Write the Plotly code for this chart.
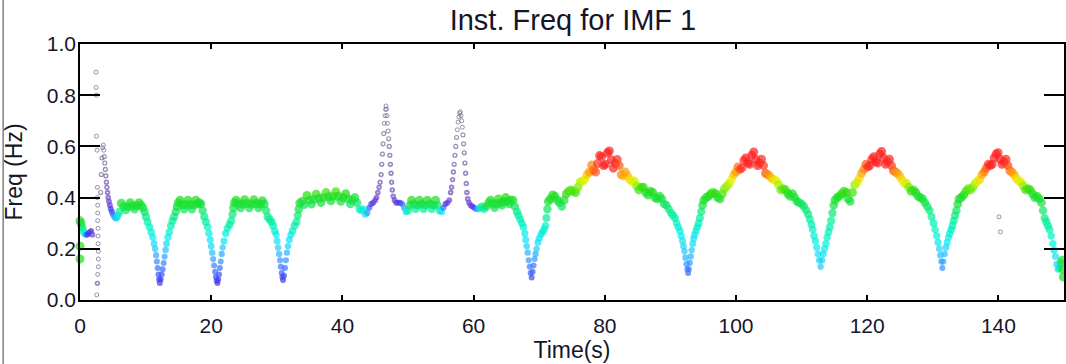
import plotly.graph_objects as go

# ---- data (time in s, instantaneous frequency in Hz, amplitude 0..1 for colour) ----
time_s = [
    # start
    0.0, 0.0, 0.0, 0.15, 0.3, 0.5, 0.7, 0.9, 1.1, 1.3, 1.5, 1.7, 1.9,
    # scattered column near t=2.5
    2.45, 2.45, 2.5, 2.5, 2.6, 2.65, 2.65, 2.7, 2.7, 2.7, 2.75, 2.75, 2.75, 2.8, 2.8, 2.8, 2.7, 2.65, 2.55,
    # first spike
    3.15, 3.25, 3.35, 3.45, 3.55, 3.62, 3.7, 3.78, 3.86, 3.94, 4.02, 4.1, 4.2, 4.3, 4.42, 4.55, 4.7, 4.85, 5.0, 5.2, 5.4, 5.6, 5.8, 6.0,
    # plateau 1
    6.3, 6.65, 7.0, 7.3, 7.65, 8.0, 8.3, 8.65, 9.0, 9.3,
    # dip 1
    9.6, 9.85, 10.05, 10.3, 10.6, 10.85, 11.1, 11.3, 11.45, 11.6, 11.72, 11.84, 11.96, 12.06, 12.16,
    12.3, 12.45, 12.6, 12.75, 12.9, 13.05, 13.2, 13.4, 13.6, 13.85, 14.1, 14.35, 14.6, 14.8, 15.0,
    # plateau 2
    15.25, 15.55, 15.85, 16.15, 16.45, 16.75, 17.05, 17.35, 17.65, 17.95, 18.2,
    # dip 2
    18.45, 18.7, 18.95, 19.2, 19.45, 19.65, 19.85, 20.0, 20.15, 20.3, 20.45, 20.6, 20.72, 20.84, 20.95,
    21.07, 21.2, 21.32, 21.45, 21.6, 21.75, 21.95, 22.2, 22.5, 22.8, 23.05, 23.25, 23.4, 23.55,
    # plateau 3
    23.8, 24.15, 24.5, 24.8, 25.1, 25.45, 25.8, 26.15, 26.5, 26.85, 27.2, 27.5, 27.8,
    # dip 3
    28.1, 28.35, 28.6, 28.9, 29.2, 29.45, 29.7, 29.9, 30.05, 30.2, 30.35, 30.5, 30.62, 30.75, 30.85, 30.95,
    31.1, 31.25, 31.4, 31.55, 31.7, 31.9, 32.15, 32.4, 32.7, 33.0, 33.2, 33.35, 33.5,
    # plateau 4
    33.85, 34.2, 34.6, 34.95, 35.3, 35.65, 36.0, 36.4, 36.75, 37.1, 37.5, 37.85, 38.25, 38.6, 39.0, 39.35,
    39.75, 40.1, 40.5, 40.85, 41.2, 41.55, 41.9, 42.25, 42.6, 42.9, 43.2, 43.5, 43.8, 44.1, 44.4, 44.7, 45.0,
    # spike 1
    45.2, 45.4, 45.6, 45.75, 45.9, 46.0, 46.1, 46.2, 46.3, 46.4, 46.5, 46.58, 46.65, 46.72, 46.8, 46.88,
    46.96, 47.05, 47.14, 47.23, 47.32, 47.41, 47.5, 47.6, 47.75, 47.95, 48.2,
    # between spikes
    48.5, 48.8, 49.1, 49.4, 49.7, 50.0, 50.25, 50.55, 50.85, 51.15, 51.45, 51.75, 52.05, 52.35, 52.65, 52.95,
    53.3, 53.6, 53.9, 54.2, 54.5, 54.8, 55.1, 55.4, 55.7, 56.0, 56.3,
    # spike 2
    56.5, 56.65, 56.8, 56.92, 57.04, 57.16, 57.28, 57.4, 57.52, 57.64, 57.76, 57.88, 57.98, 58.08, 58.18,
    58.28, 58.38, 58.48, 58.58, 58.68, 58.78, 58.88, 58.98, 59.1, 59.3, 59.55, 59.8,
    # plateau 5
    60.1, 60.4, 60.7, 61.0, 61.3, 61.6, 61.95, 62.3, 62.6, 62.9, 63.2, 63.5, 63.8, 64.1, 64.35, 64.6, 64.9,
    65.2, 65.45, 65.7,
    # dip 4
    66.0, 66.3, 66.6, 66.85, 67.1, 67.35, 67.6, 67.8, 67.95, 68.1, 68.25, 68.4, 68.55, 68.7, 68.85,
    69.0, 69.15, 69.3, 69.45, 69.6, 69.8, 70.0, 70.25, 70.5, 70.75, 70.95, 71.1, 71.25, 71.4,
    # rise to peak 1
    71.7, 72.05, 72.4, 72.75, 73.1, 73.45, 73.8, 74.15, 74.5, 74.85, 75.2, 75.55, 75.9, 76.25, 76.6, 76.95,
    77.3, 77.65,
    # peak 1
    78.0, 78.3, 78.6, 78.9, 79.2, 79.5, 79.8, 80.1, 80.4, 80.7, 81.0, 81.3, 81.6, 81.9, 82.2, 82.5, 82.8,
    # descent
    83.1, 83.45, 83.8, 84.15, 84.5, 84.85, 85.2, 85.55, 85.9, 86.25, 86.6, 86.95, 87.3, 87.65, 88.0, 88.35,
    88.7, 89.05,
    # dip 5
    89.4, 89.75, 90.1, 90.4, 90.7, 90.95, 91.2, 91.45, 91.65, 91.85, 92.0, 92.15, 92.3, 92.45, 92.58, 92.7,
    92.82, 92.95, 93.1, 93.25, 93.4, 93.55, 93.7, 93.9, 94.1, 94.3, 94.5, 94.7, 94.9, 95.1,
    # rise to peak 2
    95.45, 95.8, 96.15, 96.5, 96.85, 97.2, 97.55, 97.9, 98.25, 98.6, 98.95, 99.3, 99.65,
    # peak 2
    100.0, 100.3, 100.6, 100.9, 101.2, 101.5, 101.8, 102.1, 102.4, 102.7, 103.0, 103.3, 103.6, 103.9,
    104.2, 104.5, 104.8,
    # descent
    105.1, 105.45, 105.8, 106.15, 106.5, 106.85, 107.2, 107.55, 107.9, 108.25, 108.6, 108.95, 109.3,
    109.65, 110.0,
    # dip 6
    110.35, 110.7, 111.0, 111.25, 111.5, 111.7, 111.9, 112.1, 112.3, 112.5, 112.7, 112.9, 113.1, 113.3,
    113.5, 113.7, 113.9, 114.1, 114.3, 114.5, 114.7, 114.9, 115.1,
    # rise to peak 3
    115.4, 115.75, 116.1, 116.45, 116.8, 117.1, 117.4, 117.75, 118.1, 118.45, 118.8, 119.15,
    # peak 3
    119.5, 119.8, 120.1, 120.4, 120.7, 121.0, 121.3, 121.6, 121.9, 122.2, 122.5, 122.8, 123.1, 123.4,
    123.7, 124.0, 124.3,
    # descent
    124.6, 124.95, 125.3, 125.65, 126.0, 126.35, 126.7, 127.05, 127.4, 127.75, 128.1, 128.45, 128.8, 129.15,
    # dip 7
    129.5, 129.8, 130.1, 130.35, 130.6, 130.8, 131.0, 131.15, 131.3, 131.45, 131.6, 131.8, 132.0, 132.2,
    132.4, 132.6, 132.8, 133.0, 133.2, 133.4, 133.6, 133.8, 134.0,
    # rise to peak 4
    134.35, 134.7, 135.05, 135.4, 135.75, 136.1, 136.45, 136.8, 137.15, 137.5,
    # peak 4
    137.85, 138.15, 138.45, 138.75, 139.05, 139.35, 139.65, 139.95, 140.25, 140.55, 140.85, 141.15,
    141.45, 141.75, 142.05,
    # descent
    142.4, 142.75, 143.1, 143.45, 143.8, 144.15, 144.5, 144.85, 145.2, 145.55, 145.9, 146.25,
    # final drop
    146.55, 146.8, 147.05, 147.3, 147.55, 147.8, 148.05, 148.3, 148.5, 148.7, 148.9, 149.1, 149.3, 149.5,
    149.7, 149.8, 149.9,
    # isolated points
    140.1, 140.3, 77.05, 76.9, 76.75,
]

freq_hz = [
    0.31, 0.21, 0.16, 0.30, 0.285, 0.27, 0.26, 0.255, 0.255, 0.26, 0.265, 0.27, 0.255,
    0.89, 0.83, 0.80, 0.64, 0.585, 0.44, 0.40, 0.37, 0.34, 0.31, 0.28, 0.25, 0.22, 0.19, 0.16, 0.13, 0.10, 0.065, 0.02,
    0.42, 0.49, 0.555, 0.595, 0.605, 0.585, 0.56, 0.535, 0.51, 0.485, 0.46, 0.44, 0.42, 0.40, 0.385, 0.37, 0.355,
    0.345, 0.335, 0.325, 0.32, 0.32, 0.33, 0.345,
    0.378, 0.365, 0.352, 0.365, 0.38, 0.367, 0.355, 0.368, 0.38, 0.37,
    0.36, 0.345, 0.325, 0.305, 0.285, 0.265, 0.245, 0.22, 0.20, 0.175, 0.15, 0.125, 0.10, 0.08, 0.066,
    0.08, 0.10, 0.12, 0.145, 0.17, 0.195, 0.22, 0.245, 0.265, 0.29, 0.31, 0.325, 0.345, 0.365, 0.38,
    0.39, 0.372, 0.355, 0.372, 0.39, 0.372, 0.355, 0.372, 0.39, 0.375, 0.38,
    0.375, 0.35, 0.325, 0.305, 0.285, 0.26, 0.235, 0.21, 0.185, 0.16, 0.135, 0.11, 0.09, 0.075, 0.066,
    0.08, 0.10, 0.125, 0.15, 0.18, 0.205, 0.23, 0.26, 0.28, 0.295, 0.31, 0.335, 0.36, 0.38,
    0.39, 0.375, 0.36, 0.375, 0.392, 0.377, 0.36, 0.375, 0.392, 0.377, 0.36, 0.375, 0.388,
    0.375, 0.35, 0.325, 0.315, 0.305, 0.29, 0.27, 0.255, 0.23, 0.205, 0.18, 0.155, 0.13, 0.105, 0.09, 0.078,
    0.095, 0.125, 0.155, 0.185, 0.21, 0.235, 0.255, 0.27, 0.29, 0.305, 0.33, 0.355, 0.378,
    0.385, 0.372, 0.408, 0.39, 0.374, 0.393, 0.413, 0.397, 0.38, 0.40, 0.42, 0.403, 0.387, 0.405, 0.423, 0.405,
    0.385, 0.40, 0.415, 0.395, 0.375, 0.39, 0.40, 0.38, 0.355, 0.35, 0.355, 0.335, 0.34, 0.36, 0.375, 0.38, 0.39,
    0.40, 0.42, 0.44, 0.46, 0.49, 0.53, 0.57, 0.61, 0.65, 0.69, 0.72, 0.745, 0.758, 0.745, 0.72, 0.69,
    0.66, 0.63, 0.60, 0.565, 0.53, 0.495, 0.46, 0.43, 0.405, 0.39, 0.38,
    0.38, 0.38, 0.375, 0.36, 0.345, 0.35, 0.37, 0.39, 0.375, 0.355, 0.37, 0.39, 0.375, 0.355, 0.37, 0.39,
    0.375, 0.355, 0.37, 0.39, 0.37, 0.35, 0.345, 0.36, 0.375, 0.38, 0.39,
    0.42, 0.44, 0.47, 0.50, 0.53, 0.565, 0.60, 0.635, 0.665, 0.695, 0.715, 0.73, 0.735, 0.72, 0.70,
    0.675, 0.645, 0.61, 0.575, 0.535, 0.495, 0.455, 0.42, 0.395, 0.38, 0.37, 0.365,
    0.36, 0.355, 0.355, 0.36, 0.365, 0.355, 0.365, 0.38, 0.39, 0.375, 0.36, 0.375, 0.395, 0.38, 0.37, 0.385, 0.40,
    0.385, 0.375, 0.39,
    0.39, 0.365, 0.345, 0.33, 0.315, 0.30, 0.285, 0.26, 0.235, 0.21, 0.185, 0.155, 0.13, 0.105, 0.088,
    0.11, 0.135, 0.16, 0.18, 0.20, 0.225, 0.24, 0.255, 0.265, 0.275, 0.29, 0.32, 0.355, 0.385,
    0.395, 0.41, 0.405, 0.39, 0.38, 0.365, 0.39, 0.415, 0.425, 0.43, 0.425, 0.42, 0.44, 0.46, 0.465, 0.47,
    0.49, 0.50,
    0.527, 0.508, 0.50, 0.533, 0.564, 0.56, 0.525, 0.53, 0.575, 0.582, 0.548, 0.515, 0.533, 0.549, 0.525, 0.49, 0.485,
    0.50, 0.485, 0.47, 0.462, 0.465, 0.445, 0.43, 0.44, 0.44, 0.42, 0.41, 0.425, 0.42, 0.40, 0.395, 0.405,
    0.395, 0.375,
    0.37, 0.355, 0.34, 0.33, 0.32, 0.30, 0.285, 0.27, 0.25, 0.23, 0.21, 0.19, 0.165, 0.14, 0.12, 0.105,
    0.12, 0.145, 0.17, 0.195, 0.22, 0.24, 0.255, 0.27, 0.285, 0.30, 0.32, 0.345, 0.37, 0.39,
    0.40, 0.405, 0.415, 0.42, 0.415, 0.40, 0.395, 0.415, 0.435, 0.445, 0.455, 0.47, 0.49,
    0.50, 0.52, 0.51, 0.515, 0.545, 0.555, 0.535, 0.53, 0.565, 0.578, 0.55, 0.525, 0.535, 0.55,
    0.525, 0.495, 0.49,
    0.485, 0.475, 0.47, 0.465, 0.45, 0.43, 0.435, 0.43, 0.415, 0.405, 0.415, 0.40, 0.385, 0.38, 0.375,
    0.365, 0.35, 0.335, 0.315, 0.295, 0.275, 0.25, 0.23, 0.205, 0.18, 0.155, 0.13, 0.155, 0.18,
    0.2, 0.22, 0.245, 0.265, 0.285, 0.31, 0.34, 0.37, 0.39,
    0.40, 0.405, 0.415, 0.425, 0.42, 0.395, 0.385, 0.42, 0.45, 0.46, 0.475, 0.495,
    0.51, 0.53, 0.52, 0.525, 0.55, 0.56, 0.54, 0.535, 0.57, 0.58, 0.555, 0.53, 0.54, 0.55,
    0.525, 0.505, 0.50,
    0.495, 0.485, 0.47, 0.455, 0.455, 0.44, 0.425, 0.43, 0.42, 0.405, 0.40, 0.395, 0.38, 0.365,
    0.35, 0.325, 0.30, 0.275, 0.25, 0.225, 0.20, 0.175, 0.15, 0.125, 0.15, 0.18, 0.205, 0.225,
    0.245, 0.26, 0.275, 0.29, 0.31, 0.33, 0.35, 0.375, 0.395,
    0.40, 0.41, 0.425, 0.435, 0.43, 0.44, 0.455, 0.465, 0.47, 0.49,
    0.50, 0.515, 0.53, 0.525, 0.53, 0.555, 0.57, 0.575, 0.55, 0.53, 0.54, 0.55, 0.525, 0.505, 0.50,
    0.49, 0.475, 0.465, 0.46, 0.445, 0.43, 0.435, 0.43, 0.415, 0.40, 0.405, 0.395,
    0.38, 0.35, 0.32, 0.305, 0.29, 0.275, 0.25, 0.22, 0.195, 0.17, 0.14, 0.12, 0.125, 0.145,
    0.155, 0.12, 0.09,
    0.325, 0.266, -0.012, -0.051, -0.125,
]

amplitude = [
    0.62, 0.62, 0.62, 0.6, 0.56, 0.5, 0.42, 0.3, 0.22, 0.2, 0.2, 0.17, 0.12,
    0, 0, 0, 0, 0, 0, 0, 0, 0, 0, 0, 0, 0, 0, 0, 0, 0, 0.06, 0,
    0.02, 0.02, 0.01, 0, 0, 0, 0.01, 0.02, 0.03, 0.04, 0.05, 0.06, 0.08, 0.1, 0.13, 0.16, 0.19, 0.22, 0.26,
    0.3, 0.34, 0.38, 0.44, 0.5,
    0.6, 0.58, 0.55, 0.58, 0.62, 0.6, 0.56, 0.6, 0.62, 0.6,
    0.58, 0.55, 0.52, 0.5, 0.47, 0.45, 0.42, 0.39, 0.36, 0.33, 0.3, 0.27, 0.24, 0.21, 0.19,
    0.21, 0.24, 0.26, 0.29, 0.32, 0.35, 0.39, 0.42, 0.45, 0.48, 0.5, 0.52, 0.55, 0.58, 0.6,
    0.62, 0.6, 0.55, 0.6, 0.62, 0.6, 0.55, 0.6, 0.62, 0.6, 0.6,
    0.58, 0.55, 0.52, 0.5, 0.47, 0.44, 0.41, 0.38, 0.35, 0.32, 0.29, 0.26, 0.23, 0.21, 0.19,
    0.21, 0.24, 0.27, 0.3, 0.33, 0.36, 0.4, 0.44, 0.47, 0.49, 0.5, 0.53, 0.57, 0.6,
    0.62, 0.6, 0.56, 0.6, 0.63, 0.6, 0.56, 0.6, 0.63, 0.6, 0.56, 0.6, 0.62,
    0.58, 0.55, 0.52, 0.51, 0.5, 0.48, 0.45, 0.43, 0.4, 0.37, 0.34, 0.31, 0.28, 0.25, 0.22, 0.2,
    0.23, 0.27, 0.31, 0.34, 0.37, 0.4, 0.43, 0.45, 0.48, 0.5, 0.53, 0.56, 0.6,
    0.6, 0.56, 0.64, 0.6, 0.56, 0.6, 0.65, 0.6, 0.57, 0.62, 0.66, 0.62, 0.58, 0.62, 0.66, 0.62,
    0.58, 0.6, 0.64, 0.6, 0.55, 0.58, 0.6, 0.55, 0.48, 0.45, 0.44, 0.4, 0.32, 0.24, 0.2, 0.17, 0.14,
    0.12, 0.1, 0.08, 0.07, 0.05, 0.04, 0.03, 0.02, 0.01, 0, 0, 0, 0, 0, 0, 0,
    0.01, 0.02, 0.03, 0.04, 0.05, 0.06, 0.07, 0.08, 0.1, 0.12, 0.15,
    0.18, 0.21, 0.25, 0.32, 0.4, 0.48, 0.56, 0.62, 0.58, 0.5, 0.56, 0.62, 0.58, 0.5, 0.56, 0.62,
    0.58, 0.5, 0.56, 0.62, 0.55, 0.45, 0.4, 0.27, 0.2, 0.16, 0.13,
    0.1, 0.08, 0.07, 0.05, 0.04, 0.03, 0.02, 0.01, 0, 0, 0, 0, 0, 0, 0,
    0, 0.01, 0.02, 0.03, 0.04, 0.05, 0.06, 0.08, 0.1, 0.12, 0.14, 0.17,
    0.21, 0.27, 0.35, 0.44, 0.52, 0.5, 0.56, 0.6, 0.62, 0.6, 0.55, 0.6, 0.63, 0.6, 0.57, 0.6, 0.64,
    0.6, 0.57, 0.6,
    0.6, 0.56, 0.52, 0.5, 0.48, 0.47, 0.45, 0.42, 0.4, 0.37, 0.34, 0.31, 0.28, 0.25, 0.22,
    0.25, 0.28, 0.31, 0.33, 0.36, 0.39, 0.41, 0.43, 0.44, 0.45, 0.47, 0.5, 0.55, 0.6,
    0.6, 0.63, 0.62, 0.6, 0.58, 0.55, 0.6, 0.64, 0.66, 0.68, 0.67, 0.66, 0.7, 0.74, 0.76, 0.78,
    0.82, 0.86,
    0.88, 0.9, 0.92, 0.95, 0.98, 1, 1, 1, 1, 1, 1, 1, 0.98, 0.96, 0.92, 0.88, 0.84,
    0.86, 0.84, 0.8, 0.78, 0.77, 0.72, 0.66, 0.66, 0.65, 0.62, 0.6, 0.63, 0.62, 0.6, 0.58, 0.6,
    0.58, 0.55,
    0.55, 0.53, 0.51, 0.5, 0.49, 0.47, 0.45, 0.44, 0.42, 0.4, 0.38, 0.36, 0.34, 0.31, 0.28, 0.26,
    0.28, 0.31, 0.34, 0.36, 0.38, 0.4, 0.42, 0.44, 0.46, 0.48, 0.5, 0.53, 0.57, 0.6,
    0.6, 0.62, 0.64, 0.66, 0.64, 0.6, 0.6, 0.66, 0.7, 0.72, 0.75, 0.78, 0.82,
    0.86, 0.9, 0.93, 0.95, 0.98, 1, 1, 1, 1, 1, 1, 1, 1, 0.98,
    0.95, 0.92, 0.88,
    0.86, 0.82, 0.8, 0.78, 0.74, 0.68, 0.68, 0.66, 0.63, 0.6, 0.62, 0.6, 0.58, 0.57, 0.55,
    0.55, 0.53, 0.52, 0.5, 0.48, 0.47, 0.45, 0.44, 0.42, 0.4, 0.38, 0.36, 0.38, 0.4,
    0.42, 0.44, 0.46, 0.47, 0.48, 0.5, 0.53, 0.57, 0.6,
    0.6, 0.62, 0.64, 0.66, 0.64, 0.6, 0.58, 0.66, 0.72, 0.76, 0.8, 0.85,
    0.88, 0.92, 0.95, 0.97, 1, 1, 1, 1, 1, 1, 1, 1, 1, 0.98,
    0.95, 0.92, 0.88,
    0.86, 0.84, 0.8, 0.78, 0.76, 0.7, 0.65, 0.65, 0.63, 0.6, 0.6, 0.59, 0.57, 0.55,
    0.53, 0.5, 0.48, 0.46, 0.44, 0.41, 0.38, 0.35, 0.32, 0.3, 0.32, 0.35, 0.38, 0.41,
    0.43, 0.45, 0.46, 0.48, 0.5, 0.52, 0.55, 0.58, 0.6,
    0.6, 0.62, 0.65, 0.68, 0.68, 0.7, 0.74, 0.78, 0.8, 0.85,
    0.88, 0.92, 0.96, 1, 1, 1, 1, 1, 1, 1, 1, 0.98, 0.94, 0.9, 0.87,
    0.85, 0.8, 0.78, 0.77, 0.72, 0.66, 0.66, 0.65, 0.62, 0.6, 0.62, 0.6,
    0.58, 0.55, 0.53, 0.51, 0.5, 0.48, 0.46, 0.44, 0.42, 0.4, 0.38, 0.4, 0.45, 0.52,
    0.6, 0.62, 0.62,
    0, 0, 0, 0, 0,
]

x_ticks = [0, 20, 40, 60, 80, 100, 120, 140]
y_ticks = [0.0, 0.2, 0.4, 0.6, 0.8, 1.0]
y_tick_text = ["0.0", "0.2", "0.4", "0.6", "0.8", "1.0"]

assert len(time_s) == len(freq_hz) == len(amplitude), (len(time_s), len(freq_hz), len(amplitude))

colorscale = [
    [0.00, "#6e6484"], [0.06, "#6c52aa"], [0.14, "#6a3ed8"], [0.20, "#4038f0"],
    [0.28, "#3a78ff"], [0.36, "#20c8ff"], [0.42, "#00eef0"], [0.50, "#00f0a0"],
    [0.57, "#12e045"], [0.64, "#22dd10"], [0.72, "#90f000"], [0.78, "#e8f000"],
    [0.84, "#ffb000"], [0.90, "#ff6a10"], [0.95, "#ff3320"], [1.00, "#ff2020"],
]


def clip01(v):
    return max(0.0, min(1.0, v))


# open circles: thin rings for the weak (grey) points, solid beads growing with amplitude
sizes, widths = [], []
for a in amplitude:
    solid = clip01(a / 0.15)                       # 0 -> thin ring, 1 -> filled bead
    outer = 5.0 + 1.0 * solid + 3.0 * clip01((a - 0.3) / 0.3)
    w = 1.0 + (outer / 2.0 - 1.0) * solid
    sizes.append(outer - w)
    widths.append(w)

fig = go.Figure(go.Scatter(
    x=time_s, y=freq_hz, mode="markers", cliponaxis=False,
    marker=dict(symbol="circle-open", size=sizes, color=amplitude,
                colorscale=colorscale, cmin=0, cmax=1,
                line=dict(width=widths)),
    showlegend=False, hoverinfo="skip",
))

font_family = "Liberation Sans, Arial, Helvetica, sans-serif"
fig.update_layout(
    width=1066, height=364,
    margin=dict(l=80, r=0, t=44, b=64),
    paper_bgcolor="white", plot_bgcolor="white",
    font=dict(family=font_family, size=21, color="#15152a"),
    title=dict(text="Inst. Freq for IMF 1", x=0.5375, xanchor="center", y=0.945, yanchor="middle",
               font=dict(size=29, color="#15152a")),
    xaxis=dict(range=[0, 150], tickvals=x_ticks, ticks="inside", ticklen=5, tickwidth=1.5,
               tickcolor="black", showline=True, linecolor="black", linewidth=1.5,
               mirror="ticks", showgrid=False, zeroline=False, ticklabelstandoff=6,
               tickfont=dict(size=21),
               title=dict(text="Time(s)", standoff=0, font=dict(size=23))),
    yaxis=dict(range=[0, 1.0], tickvals=y_ticks, ticktext=y_tick_text, ticks="inside",
               ticklen=20, tickwidth=1.5, tickcolor="black", showline=True, linecolor="black",
               linewidth=1.5, mirror="ticks", showgrid=False, zeroline=False,
               ticklabelstandoff=-2, tickfont=dict(size=21),
               title=dict(text="Freq (Hz)", standoff=18, font=dict(size=23))),
    shapes=[dict(type="line", xref="paper", yref="paper", x0=-77 / 986, x1=-77 / 986,
                 y0=-64 / 256, y1=1 + 44 / 256, line=dict(color="#808080", width=1.5))],
)

fig.write_html("out.html")
